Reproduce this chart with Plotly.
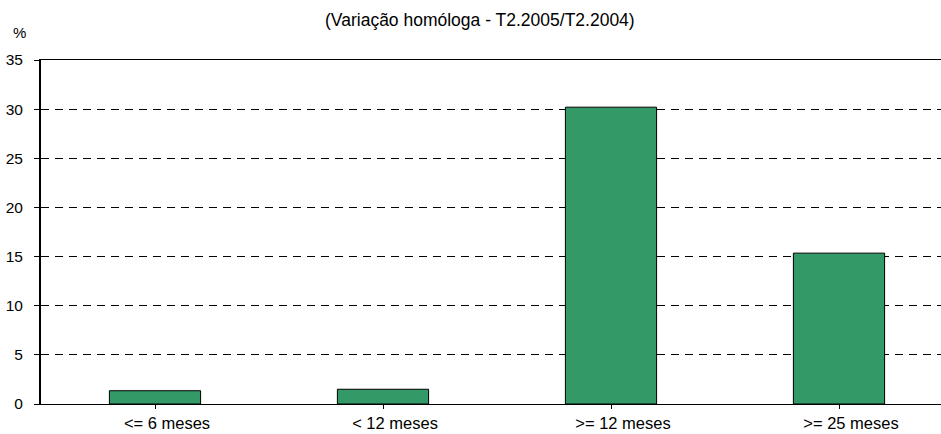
import plotly.graph_objects as go

categories = ["<= 6 meses", "< 12 meses", ">= 12 meses", ">= 25 meses"]
values = [1.35, 1.5, 30.2, 15.35]
y_ticks = [0, 5, 10, 15, 20, 25, 30, 35]
title_text = "(Variação homóloga - T2.2005/T2.2004)"
y_unit = "%"

font = "Liberation Sans, Arial, sans-serif"

W, H = 941, 434
ML, MR, MT, MB = 41, 0, 60, 30
pw, ph = W - ML - MR, H - MT - MB


def px_x(x):
    return (x - ML) / pw


def px_y(y):
    return (H - MB - y) / ph


fig = go.Figure(go.Bar(
    x=list(range(len(categories))),
    y=values,
    width=0.4,
    marker=dict(color="#339966", line=dict(color="#000000", width=1)),
))

fig.update_layout(
    width=W, height=H,
    margin=dict(l=ML, r=MR, t=MT, b=MB),
    paper_bgcolor="white", plot_bgcolor="white",
    showlegend=False,
    font=dict(family=font, size=16, color="#000000"),
    annotations=[
        dict(text=title_text, x=px_x(480), y=px_y(20), xref="paper", yref="paper",
             showarrow=False, font=dict(size=17.5), xanchor="center", yanchor="middle"),
        dict(text=y_unit, x=px_x(19), y=px_y(32), xref="paper", yref="paper",
             showarrow=False, font=dict(size=15), xanchor="center", yanchor="middle"),
    ],
)

fig.update_xaxes(
    range=[-0.5, -0.5 + 900 / 228],
    tickmode="array", tickvals=list(range(len(categories))), ticktext=categories,
    tickson="boundaries", ticks="outside", ticklen=4, tickcolor="#000000",
    showline=True, linecolor="#000000", linewidth=1, mirror=True,
    showgrid=False, zeroline=False, tickfont=dict(size=16.5),
    ticklabelstandoff=0, ticklabelshift=12, automargin=False,
)
fig.update_yaxes(
    range=[0, 35], tickvals=y_ticks,
    ticks="outside", ticklen=5, tickcolor="#000000",
    showline=True, linecolor="#000000", linewidth=2,
    showgrid=True, gridcolor="#000000", gridwidth=1, griddash="8px,6px",
    zeroline=False, tickfont=dict(size=15.5), ticklabelstandoff=8,
    automargin=False,
)

fig.write_html("out.html", post_script="document.body.style.margin='0';",
               config={"displayModeBar": False})
